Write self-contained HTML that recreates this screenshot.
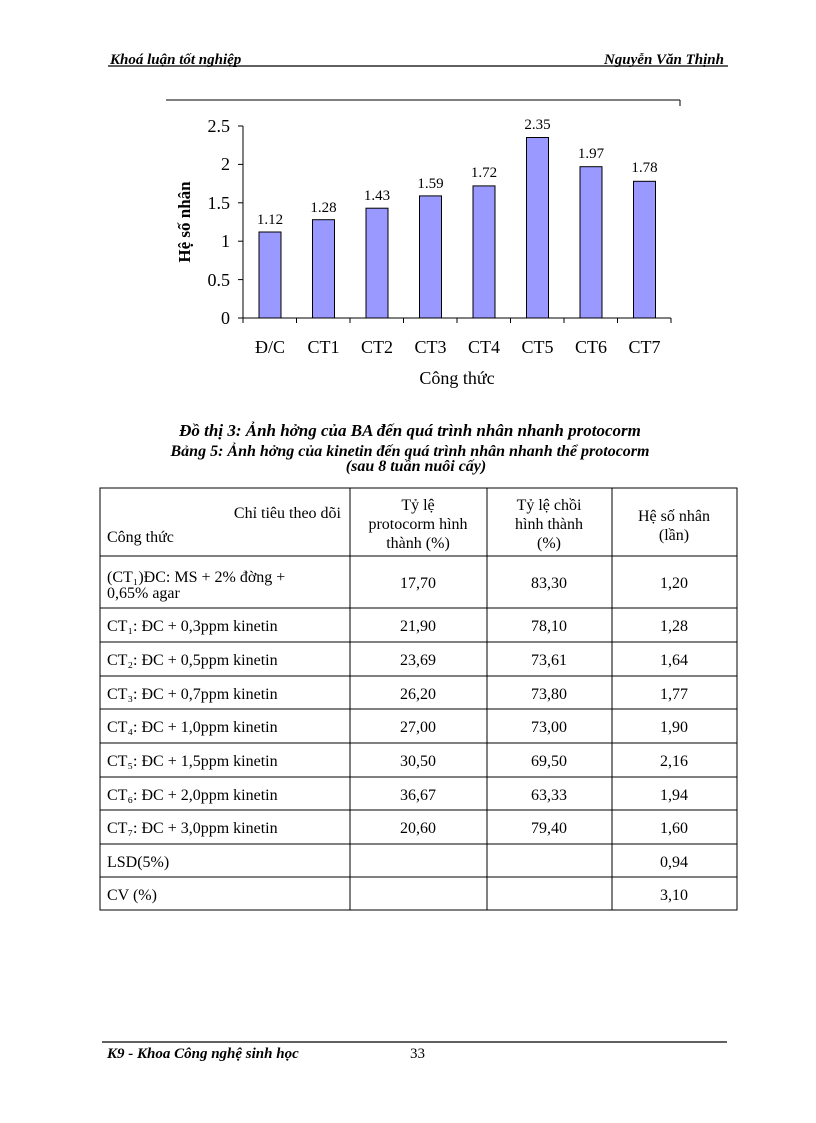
<!DOCTYPE html><html><head><meta charset="utf-8"><style>
body{margin:0;background:#fff}
svg{display:block}
text{font-family:"Liberation Serif",serif;fill:#000}
</style></head><body>
<svg width="816" height="1123" viewBox="0 0 816 1123" xmlns="http://www.w3.org/2000/svg">
<rect width="816" height="1123" fill="#fff"/>
<text x="110" y="64" font-size="15" font-style="italic" font-weight="bold">Khoá luận tốt nghiệp</text>
<text x="724" y="64" font-size="15" font-style="italic" font-weight="bold" text-anchor="end">Nguyễn Văn Thịnh</text>
<line x1="108" y1="66" x2="728" y2="66" stroke="#000" stroke-width="1.2"/>
<line x1="166" y1="100" x2="680" y2="100" stroke="#000"/>
<line x1="680" y1="100" x2="680" y2="106" stroke="#000"/>
<g stroke="#000" stroke-width="1">
<line x1="243" y1="126" x2="243" y2="318"/>
<line x1="243" y1="318" x2="671" y2="318"/>
<line x1="238" y1="126" x2="243" y2="126"/><line x1="238" y1="164.4" x2="243" y2="164.4"/><line x1="238" y1="202.8" x2="243" y2="202.8"/><line x1="238" y1="241.2" x2="243" y2="241.2"/><line x1="238" y1="279.6" x2="243" y2="279.6"/><line x1="238" y1="318" x2="243" y2="318"/>
<line x1="243" y1="318" x2="243" y2="323"/><line x1="296.5" y1="318" x2="296.5" y2="323"/><line x1="350" y1="318" x2="350" y2="323"/><line x1="403.5" y1="318" x2="403.5" y2="323"/><line x1="457" y1="318" x2="457" y2="323"/><line x1="510.5" y1="318" x2="510.5" y2="323"/><line x1="564" y1="318" x2="564" y2="323"/><line x1="617.5" y1="318" x2="617.5" y2="323"/><line x1="671" y1="318" x2="671" y2="323"/>
</g>
<g font-size="18" text-anchor="end">
<text x="230" y="132">2.5</text><text x="230" y="170">2</text><text x="230" y="209">1.5</text><text x="230" y="247">1</text><text x="230" y="286">0.5</text><text x="230" y="324">0</text>
</g>
<g fill="#9999ff" stroke="#000" stroke-width="1">
<rect x="259" y="232" width="22" height="86"/>
<rect x="312.5" y="219.7" width="22" height="98.3"/>
<rect x="366" y="208.2" width="22" height="109.8"/>
<rect x="419.5" y="195.9" width="22" height="122.1"/>
<rect x="473" y="185.9" width="22" height="132.1"/>
<rect x="526.5" y="137.5" width="22" height="180.5"/>
<rect x="580" y="166.7" width="22" height="151.3"/>
<rect x="633.5" y="181.3" width="22" height="136.7"/>
</g>
<g font-size="15" text-anchor="middle">
<text x="270" y="224">1.12</text><text x="323.5" y="212">1.28</text><text x="377" y="200">1.43</text><text x="430.5" y="188">1.59</text><text x="484" y="177">1.72</text><text x="537.5" y="129">2.35</text><text x="591" y="158">1.97</text><text x="644.5" y="172">1.78</text>
</g>
<g font-size="18" text-anchor="middle">
<text x="270" y="353">Đ/C</text><text x="323.5" y="353">CT1</text><text x="377" y="353">CT2</text><text x="430.5" y="353">CT3</text><text x="484" y="353">CT4</text><text x="537.5" y="353">CT5</text><text x="591" y="353">CT6</text><text x="644.5" y="353">CT7</text>
<text x="457" y="384">Công thức</text>
</g>
<text transform="translate(190,222) rotate(-90)" font-size="17" font-weight="bold" text-anchor="middle">Hệ số nhân</text>
<text x="410" y="436" font-size="17" font-style="italic" font-weight="bold" text-anchor="middle">Đồ thị 3: Ảnh hởng   của BA đến quá trình nhân nhanh protocorm</text>
<text x="410" y="456" font-size="16" font-style="italic" font-weight="bold" text-anchor="middle">Bảng 5: Ảnh hởng   của kinetin đến quá trình nhân nhanh thể protocorm</text>
<text x="416" y="471" font-size="16" font-style="italic" font-weight="bold" text-anchor="middle">(sau 8 tuần nuôi cấy)</text>
<g stroke="#000" stroke-width="1" fill="none">
<rect x="100" y="488" width="637" height="422"/>
<line x1="350" y1="488" x2="350" y2="910"/><line x1="487" y1="488" x2="487" y2="910"/><line x1="612" y1="488" x2="612" y2="910"/>
<line x1="100" y1="556" x2="737" y2="556"/><line x1="100" y1="608" x2="737" y2="608"/><line x1="100" y1="642" x2="737" y2="642"/><line x1="100" y1="676" x2="737" y2="676"/><line x1="100" y1="709" x2="737" y2="709"/><line x1="100" y1="743" x2="737" y2="743"/><line x1="100" y1="777" x2="737" y2="777"/><line x1="100" y1="810" x2="737" y2="810"/><line x1="100" y1="844" x2="737" y2="844"/><line x1="100" y1="877" x2="737" y2="877"/>
</g>
<g font-size="16">
<text x="341" y="518" text-anchor="end">Chỉ tiêu theo dõi</text>
<text x="107" y="542">Công thức</text>
<g text-anchor="middle">
<text x="418" y="510">Tỷ lệ</text><text x="418" y="529">protocorm hình</text><text x="418" y="548">thành (%)</text>
<text x="549" y="510">Tỷ lệ chồi</text><text x="549" y="529">hình thành</text><text x="549" y="548">(%)</text>
<text x="674" y="521">Hệ số nhân</text><text x="674" y="540">(lần)</text>
</g>
<text x="107" y="582">(CT₁)ĐC: MS + 2% đờng   +</text><text x="107" y="598">0,65% agar</text>
<text x="107" y="631">CT₁: ĐC + 0,3ppm kinetin</text>
<text x="107" y="665">CT₂: ĐC + 0,5ppm kinetin</text>
<text x="107" y="699">CT₃: ĐC + 0,7ppm kinetin</text>
<text x="107" y="732">CT₄: ĐC + 1,0ppm kinetin</text>
<text x="107" y="766">CT₅: ĐC + 1,5ppm kinetin</text>
<text x="107" y="800">CT₆: ĐC + 2,0ppm kinetin</text>
<text x="107" y="833">CT₇: ĐC + 3,0ppm kinetin</text>
<text x="107" y="867">LSD(5%)</text>
<text x="107" y="900">CV (%)</text>
<g text-anchor="middle">
<text x="418" y="588">17,70</text><text x="549" y="588">83,30</text><text x="674" y="588">1,20</text>
<text x="418" y="631">21,90</text><text x="549" y="631">78,10</text><text x="674" y="631">1,28</text>
<text x="418" y="665">23,69</text><text x="549" y="665">73,61</text><text x="674" y="665">1,64</text>
<text x="418" y="699">26,20</text><text x="549" y="699">73,80</text><text x="674" y="699">1,77</text>
<text x="418" y="732">27,00</text><text x="549" y="732">73,00</text><text x="674" y="732">1,90</text>
<text x="418" y="766">30,50</text><text x="549" y="766">69,50</text><text x="674" y="766">2,16</text>
<text x="418" y="800">36,67</text><text x="549" y="800">63,33</text><text x="674" y="800">1,94</text>
<text x="418" y="833">20,60</text><text x="549" y="833">79,40</text><text x="674" y="833">1,60</text>
<text x="674" y="867">0,94</text>
<text x="674" y="900">3,10</text>
</g>
</g>
<line x1="102" y1="1042" x2="727" y2="1042" stroke="#000" stroke-width="1.2"/>
<text x="107" y="1058" font-size="15" font-style="italic" font-weight="bold">K9 - Khoa Công nghệ sinh học</text>
<text x="410" y="1058" font-size="15">33</text>
</svg>
</body></html>
